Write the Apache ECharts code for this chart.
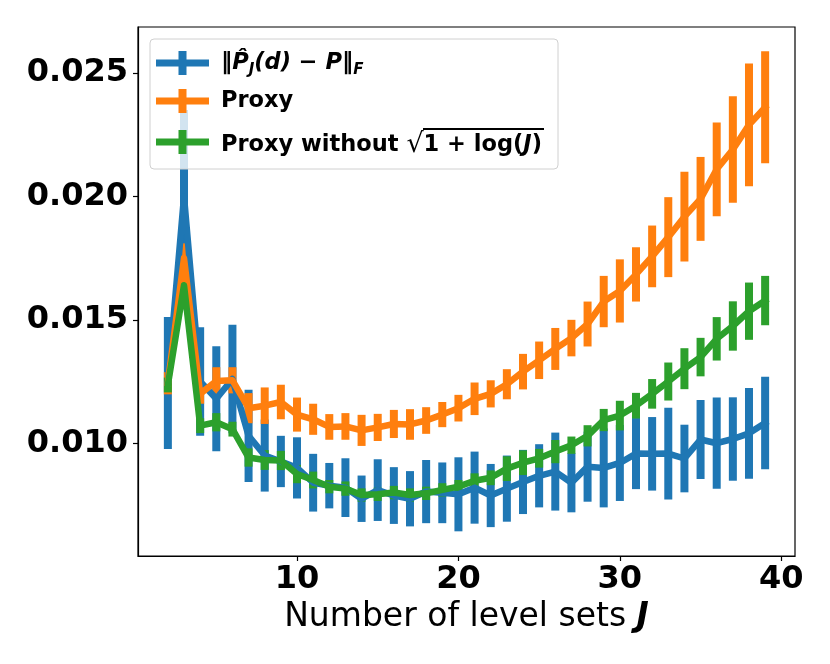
<!DOCTYPE html>
<html>
<head>
<meta charset="utf-8">
<script src="https://cdn.jsdelivr.net/npm/echarts@6/dist/echarts.min.js"></script>
<style>
html,body{margin:0;padding:0;background:#fff;}
#chart{width:830px;height:664px;}
</style>
</head>
<body>
<div id="chart"></div>
<script>
// Number of level sets J
var J = [2,3,4,5,6,7,8,9,10,11,12,13,14,15,16,17,18,19,20,21,22,23,24,25,26,27,28,29,30,31,32,33,34,35,36,37,38,39];

// ||P_J(d) - P||_F : mean and error half-width
var errMean = [0.01244,0.0200,0.0125,0.0118,0.0126,0.0103,0.0095,0.00926,0.0090,0.0084,0.00828,0.0082,0.00775,0.0081,0.00788,0.00775,0.00804,0.00799,0.00793,0.0082,0.00788,0.00816,0.00843,0.00868,0.00885,0.0084,0.00905,0.0090,0.0092,0.00958,0.00957,0.00958,0.00938,0.01015,0.0100,0.01017,0.0104,0.01082];
var errStd  = [0.00267,0.0035,0.0022,0.00213,0.0022,0.00187,0.00146,0.00104,0.00124,0.00117,0.00092,0.00119,0.00094,0.00125,0.00115,0.00112,0.00128,0.00123,0.0015,0.00146,0.00128,0.00134,0.0013,0.00128,0.00158,0.0012,0.00142,0.0016,0.00154,0.00144,0.00149,0.00186,0.00137,0.0016,0.00185,0.00169,0.00184,0.00187];

// Proxy
var proxyMean = [0.01243,0.0175,0.0120,0.01252,0.01255,0.01142,0.01152,0.01167,0.01116,0.01097,0.01066,0.01068,0.01052,0.01064,0.01078,0.01076,0.01092,0.01116,0.01142,0.0118,0.0120,0.01239,0.0129,0.01336,0.01382,0.01426,0.01483,0.01574,0.01617,0.01684,0.01757,0.01835,0.01918,0.0199,0.0211,0.0219,0.0229,0.02361];
var proxyStd  = [0.00045,0.0006,0.0004,0.00056,0.00053,0.00061,0.00074,0.0007,0.00069,0.00063,0.00052,0.00054,0.00063,0.00055,0.00057,0.00062,0.00054,0.00051,0.00054,0.00066,0.00055,0.00061,0.00072,0.00076,0.00085,0.00074,0.00091,0.00104,0.00128,0.0011,0.00125,0.00162,0.00182,0.0017,0.0019,0.00216,0.00249,0.00227];

// Proxy without sqrt(1+log(J))
var proxy2Mean = [0.01236,0.0164,0.01071,0.01085,0.01057,0.00942,0.00932,0.0093,0.00875,0.00851,0.00824,0.00816,0.0079,0.00793,0.0080,0.0079,0.00797,0.00811,0.00824,0.00848,0.0086,0.00897,0.00921,0.00939,0.00966,0.00992,0.0103,0.01094,0.01112,0.01152,0.0120,0.0125,0.01302,0.01349,0.01423,0.01475,0.01535,0.01578];
var proxy2Std  = [0.0003,0.0003,0.0003,0.00037,0.0003,0.00037,0.0004,0.00039,0.00037,0.00034,0.00027,0.00029,0.00027,0.00027,0.00027,0.00027,0.00027,0.00027,0.00027,0.0003,0.0003,0.0005,0.0005,0.00038,0.00047,0.00035,0.00043,0.00045,0.0006,0.00052,0.0006,0.00077,0.00083,0.00078,0.00088,0.001,0.00116,0.001];

var xTicks = [10,20,30,40];
var yTicks = [0.010,0.015,0.020,0.025];

var C_BLUE = '#1f77b4', C_ORANGE = '#ff7f0e', C_GREEN = '#2ca02c';
var FONT = 'DejaVu Sans';
var LFS = 22.5;   // legend font size
var RFS = 27;     // radical font size
var LW = 6.5;     // line width
var BW = 8;       // error bar width

function lineData(m){ return J.map(function(x,i){ return [x, m[i]]; }); }
function barData(m,s){ return J.map(function(x,i){ return [x, m[i]-s[i], m[i]+s[i]]; }); }
function barRender(color){
  return function(params, api){
    var x = api.value(0), lo = api.value(1), hi = api.value(2);
    var pTop = api.coord([x, hi]);
    var pBot = api.coord([x, lo]);
    return {type:'rect', shape:{x:pTop[0]-BW/2, y:pTop[1], width:BW, height:pBot[1]-pTop[1]}, style:{fill:color}};
  };
}

// measure text for the radical's overline
var mctx = document.createElement('canvas').getContext('2d');
function tw(font, s){ mctx.font = font; return mctx.measureText(s).width; }
var wPrefix = tw('bold ' + LFS + 'px "DejaVu Sans"', 'Proxy without ');
var wRad = tw(RFS + 'px "DejaVu Sans"', '\u221A');
var wArg = tw('bold ' + LFS + 'px "DejaVu Sans"', '1 + log(') +
           tw('italic bold ' + LFS + 'px "DejaVu Sans"', 'J') +
           tw('bold ' + LFS + 'px "DejaVu Sans"', ')');
var olOffset = Math.round(wPrefix + wRad - 1);
var olWidth = Math.round(wArg + 3);

var legendIcon = 'path://M0,8.5H53V15.5H0Z M22.5,0H30.5V24H22.5Z';

var chart = echarts.init(document.getElementById('chart'), null, {renderer:'canvas'});
var option = {
  animation:false,
  backgroundColor:'#fff',
  grid:{left:138, right:35, top:27, bottom:108, show:true, borderColor:'#000', borderWidth:1.2, backgroundColor:'transparent'},
  xAxis:{
    type:'value', min:0.15, max:40.85,
    axisLine:{show:true, lineStyle:{color:'#000', width:1.2}},
    axisTick:{show:true, length:5, lineStyle:{color:'#000', width:1.2}, customValues:xTicks},
    axisLabel:{customValues:xTicks, fontFamily:FONT, fontWeight:'bold', fontSize:32, color:'#000', margin:8},
    splitLine:{show:false},
    name:'Number of level sets {j|J}', nameLocation:'middle', nameGap:44,
    nameTextStyle:{fontFamily:FONT, fontSize:33, color:'#000',
      rich:{j:{fontFamily:FONT, fontSize:33, fontWeight:'bold', fontStyle:'italic', color:'#000'}}}
  },
  yAxis:{
    type:'value', min:0.00543, max:0.026865,
    axisLine:{show:true, lineStyle:{color:'#000', width:1.2}},
    axisTick:{show:true, length:5, lineStyle:{color:'#000', width:1.2}, customValues:yTicks},
    axisLabel:{customValues:yTicks, fontFamily:FONT, fontWeight:'bold', fontSize:32, color:'#000', margin:10,
      formatter:function(v){ return v.toFixed(3); }},
    splitLine:{show:false}
  },
  legend:{
    z:10,
    left:150, top:39, orient:'vertical',
    data:[
      {name:'err', icon:legendIcon, itemStyle:{color:C_BLUE}},
      {name:'proxy', icon:legendIcon, itemStyle:{color:C_ORANGE}},
      {name:'proxy2', icon:legendIcon, itemStyle:{color:C_GREEN}}
    ],
    itemWidth:53, itemHeight:24, itemGap:8,
    padding:[9,14,9,6],
    backgroundColor:'rgba(255,255,255,0.8)', borderColor:'#d0d0d0', borderWidth:1, borderRadius:4,
    selectedMode:false,
    formatter:function(name){
      if(name==='err') return '{b|\u2016}{bi|P\u0302}{sub|J}{bi|(d)}{b| \u2212 }{bi|P}{b|\u2016}{sub|F}';
      if(name==='proxy') return '{b|Proxy}';
      return '{sp| }{ol| }\n{b|Proxy without }{rad|\u221A}{b|1 + log(}{bi|J}{b|)}';
    },
    textStyle:{
      fontFamily:FONT, fontSize:LFS, fontWeight:'bold', color:'#000', padding:[0,0,0,7], lineHeight:30,
      rich:{
        b:{fontFamily:FONT, fontSize:LFS, fontWeight:'bold', color:'#000', lineHeight:30},
        bi:{fontFamily:FONT, fontSize:LFS, fontWeight:'bold', fontStyle:'italic', color:'#000', lineHeight:30},
        sub:{fontFamily:FONT, fontSize:15, fontWeight:'bold', fontStyle:'italic', color:'#000', verticalAlign:'bottom', lineHeight:22},
        rad:{fontFamily:FONT, fontSize:RFS, fontWeight:'normal', color:'#000', lineHeight:30},
        sp:{width:olOffset, height:2, lineHeight:6, fontSize:2, verticalAlign:'bottom'},
        ol:{width:olWidth, height:2, lineHeight:6, fontSize:2, backgroundColor:'#000', verticalAlign:'bottom'}
      }
    }
  },
  series:[
    {name:'err', type:'custom', renderItem:barRender(C_BLUE), data:barData(errMean, errStd), encode:{x:0, y:[1,2]}, itemStyle:{color:C_BLUE}},
    {name:'err', type:'line', data:lineData(errMean), symbol:'none', lineStyle:{color:C_BLUE, width:LW, join:'round', cap:'square'}, itemStyle:{color:C_BLUE}},
    {name:'proxy', type:'custom', renderItem:barRender(C_ORANGE), data:barData(proxyMean, proxyStd), encode:{x:0, y:[1,2]}, itemStyle:{color:C_ORANGE}},
    {name:'proxy', type:'line', data:lineData(proxyMean), symbol:'none', lineStyle:{color:C_ORANGE, width:LW, join:'round', cap:'square'}, itemStyle:{color:C_ORANGE}},
    {name:'proxy2', type:'custom', renderItem:barRender(C_GREEN), data:barData(proxy2Mean, proxy2Std), encode:{x:0, y:[1,2]}, itemStyle:{color:C_GREEN}},
    {name:'proxy2', type:'line', data:lineData(proxy2Mean), symbol:'none', lineStyle:{color:C_GREEN, width:LW, join:'round', cap:'square'}, itemStyle:{color:C_GREEN}}
  ]
};
chart.setOption(option);
</script>
</body>
</html>
